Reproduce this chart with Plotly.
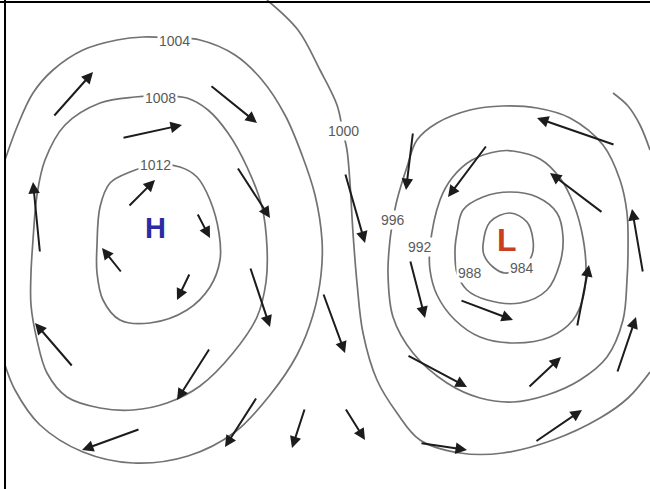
import plotly.graph_objects as go

# isobars, traced in picture pixels (x right, y down)
p1004_x = [5, 17, 33, 53, 83, 117, 143, 173, 200, 235, 262, 285, 302, 315, 322, 321, 313, 297, 270, 235, 188, 133, 83, 40, 15, 5]
p1004_y = [160, 127, 93, 70, 50, 40, 37, 38, 40, 55, 80, 115, 155, 195, 240, 275, 315, 355, 395, 432, 456, 463, 452, 425, 390, 365]

p1008_x = [33, 37, 45, 65, 100, 135, 160, 187, 208, 228, 247, 262, 267, 266, 257, 233, 200, 167, 133, 100, 67, 47, 37, 31, 31, 33]
p1008_y = [240, 195, 160, 125, 103, 97, 96, 98, 110, 133, 167, 207, 247, 282, 317, 353, 386, 403, 410, 408, 397, 373, 340, 305, 273, 240]

p1012_x = [97, 100, 110, 130, 155, 180, 197, 210, 219, 220, 210, 187, 150, 120, 103, 97, 97]
p1012_y = [245, 207, 183, 172, 165, 167, 177, 200, 233, 260, 287, 310, 323, 320, 300, 273, 245]

p1000_x = [267, 298, 320, 337, 343, 347, 350, 353, 357, 363, 377, 397, 420, 460, 503, 553, 600, 628, 650]
p1000_y = [0, 30, 70, 105, 132, 150, 183, 233, 283, 333, 380, 413, 440, 453, 453, 440, 418, 398, 372]

p_edge_x = [613, 628, 640, 650]
p_edge_y = [93, 106, 125, 150]

p996_x = [393, 397, 407, 417, 437, 470, 503, 537, 570, 603, 620, 627, 628, 627, 623, 607, 580, 547, 513, 480, 447, 413, 393, 388, 390, 393]
p996_y = [220, 200, 167, 140, 123, 110, 106, 108, 118, 145, 180, 213, 253, 280, 320, 357, 380, 395, 402, 398, 383, 353, 317, 273, 240, 220]

p992_x = [430, 440, 452, 472, 500, 513, 540, 560, 574, 583, 586, 583, 573, 550, 515, 480, 455, 437, 430, 430]
p992_y = [247, 200, 178, 160, 151, 151, 159, 178, 205, 238, 270, 298, 320, 337, 343, 337, 320, 295, 270, 247]

p988_x = [457, 463, 483, 510, 537, 557, 563, 560, 547, 520, 487, 467, 457, 455, 457]
p988_y = [233, 210, 197, 192, 197, 213, 237, 263, 290, 303, 300, 290, 273, 250, 233]

p984_x = [483, 490, 510, 527, 533, 532, 523, 505, 493, 484, 483]
p984_y = [245, 222, 213, 222, 240, 255, 267, 273, 267, 255, 245]

isobars = [
    (p1004_x, p1004_y), (p1008_x, p1008_y), (p1012_x, p1012_y),
    (p1000_x, p1000_y), (p_edge_x, p_edge_y), (p996_x, p996_y),
    (p992_x, p992_y), (p988_x, p988_y), (p984_x, p984_y),
]

# isobar labels
label_text = ["1004", "1008", "1012", "1000", "996", "992", "988", "984"]
label_x = [174, 160, 155, 343, 393, 420, 470, 522]
label_y = [41, 98, 165, 131, 220, 247, 273, 268]

# wind arrows: tail -> head
arrow_x0 = [53, 210, 122, 128, 237, 197, 40, 122, 190, 250, 73, 210, 140, 257, 305,
            345, 323, 345,
            413, 487, 615, 603, 643, 410, 460, 577, 407, 528, 617, 420, 535]
arrow_y0 = [117, 85, 138, 207, 167, 213, 253, 273, 273, 267, 367, 348, 429, 397, 408,
            173, 293, 408,
            132, 145, 145, 213, 273, 260, 300, 327, 355, 388, 373, 443, 442]
arrow_x1 = [93, 257, 182, 155, 270, 210, 33, 102, 177, 270, 35, 177, 82, 225, 292,
            365, 345, 365,
            406, 448, 537, 550, 632, 425, 513, 589, 467, 561, 636, 467, 582]
arrow_y1 = [72, 123, 125, 180, 218, 238, 182, 248, 300, 327, 323, 400, 450, 447, 448,
            243, 353, 440,
            190, 197, 118, 173, 209, 318, 320, 265, 387, 357, 317, 450, 410]

fig = go.Figure()

for xs, ys in isobars:
    fig.add_trace(go.Scatter(
        x=xs, y=ys, mode="lines",
        line=dict(color="#727272", width=1.7, shape="spline", smoothing=1.0),
        hoverinfo="skip", showlegend=False,
    ))

for x0, y0, x1, y1 in zip(arrow_x0, arrow_y0, arrow_x1, arrow_y1):
    fig.add_annotation(
        x=x1, y=y1, ax=x0, ay=y0, xref="x", yref="y", axref="x", ayref="y",
        text="", showarrow=True, arrowhead=2, arrowsize=1.15, arrowwidth=2,
        arrowcolor="#1c1c1c", standoff=0,
    )

for t, x, y in zip(label_text, label_x, label_y):
    fig.add_annotation(
        x=x, y=y, text=t, showarrow=False, bgcolor="white",
        font=dict(family="Arial, Liberation Sans", size=14, color="#5a5a5a"),
        borderpad=1,
    )

fig.add_annotation(x=155, y=228, text="<b>H</b>", showarrow=False,
                   font=dict(family="Arial, Liberation Sans", size=29, color="#2b2ba6"))
fig.add_annotation(x=507, y=240, text="<b>L</b>", showarrow=False,
                   font=dict(family="Arial, Liberation Sans", size=32, color="#c8401f"))

# frame: left and top edges
fig.add_shape(type="line", xref="paper", yref="paper", x0=5 / 650, x1=5 / 650, y0=0, y1=1,
              line=dict(color="black", width=2))
fig.add_shape(type="line", xref="paper", yref="paper", x0=0, x1=1, y0=1 - 2 / 489, y1=1 - 2 / 489,
              line=dict(color="black", width=2))

fig.update_xaxes(range=[0, 650], visible=False, fixedrange=True)
fig.update_yaxes(range=[489, 0], visible=False, fixedrange=True)
fig.update_layout(
    width=650, height=489,
    margin=dict(l=0, r=0, t=0, b=0),
    plot_bgcolor="white", paper_bgcolor="white",
)

fig.write_html("out.html", config={"displayModeBar": False},
               post_script="document.body.style.margin='0';document.body.style.overflow='hidden';")
